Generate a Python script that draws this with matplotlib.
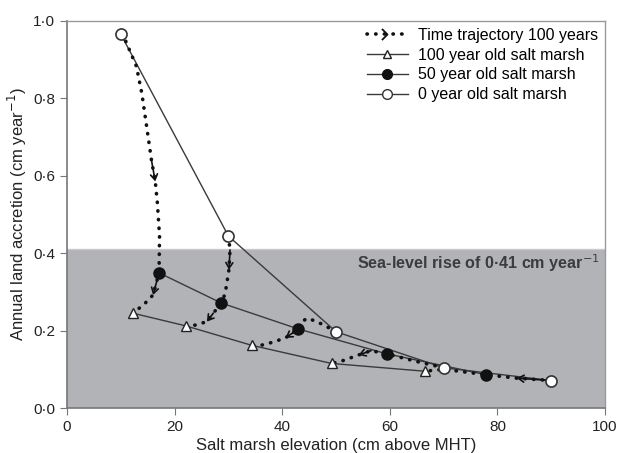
import matplotlib
matplotlib.use("Agg")
import matplotlib.pyplot as plt
from matplotlib.lines import Line2D
from matplotlib.path import Path

plt.rcParams["font.family"] = ["Liberation Sans", "DejaVu Sans"]

# Salt marsh curves (elevation, accretion)
x_age0 = [10, 30, 50, 70, 90]
y_age0 = [0.965, 0.444, 0.197, 0.104, 0.071]
x_age50 = [17.1, 28.7, 43.0, 59.4, 77.9]
y_age50 = [0.349, 0.271, 0.204, 0.140, 0.086]
x_age100 = [12.2, 22.1, 34.3, 49.2, 66.5]
y_age100 = [0.245, 0.212, 0.162, 0.115, 0.095]

# Time trajectories (dotted), with index of the arrow tip in each
traj_x = [
    [10.0, 10.8, 12.9, 13.9, 14.8, 15.7, 16.4, 16.8, 17.2, 17.1, 16.0, 14.2, 12.2],
    [30.0, 30.3, 30.1, 29.4, 28.7, 27.2, 26.0, 23.8, 22.1],
    [50.0, 47.5, 44.8, 43.4, 43.0, 40.6, 38.0, 35.8, 34.3],
    [70.0, 65.0, 59.4, 56.5, 54.2, 51.2, 49.2],
    [90.0, 83.6, 77.9, 70.0, 66.5],
]
traj_y = [
    [0.965, 0.951, 0.882, 0.813, 0.727, 0.640, 0.585, 0.529, 0.443, 0.349, 0.292, 0.266, 0.245],
    [0.444, 0.408, 0.357, 0.296, 0.271, 0.245, 0.223, 0.214, 0.212],
    [0.197, 0.216, 0.232, 0.222, 0.204, 0.181, 0.169, 0.161, 0.162],
    [0.104, 0.120, 0.140, 0.148, 0.137, 0.122, 0.115],
    [0.071, 0.077, 0.086, 0.100, 0.095],
]
arrow_idx = [[6, 10], [2, 6], [5], [4], [1]]

sea_level = 0.41

fig = plt.figure(figsize=(6.17, 4.53), dpi=100)
ax = fig.add_axes([0.1086, 0.0993, 0.872, 0.855])

ax.axhspan(0, sea_level, color="#b2b3b6", zorder=0, lw=0)
ax.axhline(sea_level, color="#c8c9cc", lw=1, zorder=0.5)

line_col = "#3a3a3a"
ax.plot(x_age0, y_age0, color=line_col, lw=1, zorder=2)
ax.plot(x_age50, y_age50, color=line_col, lw=1, zorder=2)
ax.plot(x_age100, y_age100, color=line_col, lw=1, zorder=2)

dot_style = dict(color="#111111", lw=2.6, linestyle=(0, (0.1, 2.3)),
                 dash_capstyle="round", zorder=3)
for tx, ty, idxs in zip(traj_x, traj_y, arrow_idx):
    ax.plot(tx, ty, **dot_style)
    for i in idxs:
        ax.annotate("", xy=(tx[i], ty[i]), xytext=(tx[i - 1], ty[i - 1]),
                    arrowprops=dict(arrowstyle="->,head_length=0.4,head_width=0.25",
                                    color="#111111", lw=1.2, shrinkA=0, shrinkB=0),
                    zorder=4)

ax.plot(x_age100, y_age100, ls="none", marker="^", ms=7, mfc="white",
        mec="#222222", mew=1, zorder=5)
ax.plot(x_age50, y_age50, ls="none", marker="o", ms=8, mfc="#111111",
        mec="#111111", zorder=5)
ax.plot(x_age0, y_age0, ls="none", marker="o", ms=8, mfc="white",
        mec="#333333", mew=1.2, zorder=5)

ax.text(99.0, 0.375, "Sea-level rise of 0·41 cm year$^{-1}$", ha="right",
        va="center", fontsize=11.6, fontweight="bold", color="#3c3c3c", zorder=6)

ax.set_xlim(0, 100)
ax.set_ylim(0, 1.0)
ax.set_xticks([0, 20, 40, 60, 80, 100])
ax.set_xticklabels(["0", "20", "40", "60", "80", "100"])
ax.set_yticks([0, 0.2, 0.4, 0.6, 0.8, 1.0])
ax.set_yticklabels(["0·0", "0·2", "0·4", "0·6", "0·8", "1·0"])
ax.tick_params(direction="out", length=5, color="#777777", labelsize=11,
               labelcolor="#222222")
for s in ["left", "bottom"]:
    ax.spines[s].set_color("#777777")
    ax.spines[s].set_linewidth(1.2)
for s in ["top", "right"]:
    ax.spines[s].set_color("#999999")
    ax.spines[s].set_linewidth(1)

ax.set_xlabel("Salt marsh elevation (cm above MHT)", fontsize=12, color="#222222", labelpad=3)
ax.set_ylabel("Annual land accretion (cm year$^{-1}$)", fontsize=12, color="#222222", labelpad=3)

chevron = Path([(-1, 1), (0, 0), (-1, -1)], [Path.MOVETO, Path.LINETO, Path.LINETO])
handles = [
    Line2D([], [], color="#111111", lw=2.6, linestyle=(0, (0.1, 2.3)),
           dash_capstyle="round", marker=chevron, ms=8, mfc="none",
           mec="#111111", mew=1.3),
    Line2D([], [], color=line_col, lw=1, marker="^", ms=6, mfc="white", mec="#222222"),
    Line2D([], [], color=line_col, lw=1, marker="o", ms=7, mfc="#111111", mec="#111111"),
    Line2D([], [], color=line_col, lw=1, marker="o", ms=7, mfc="white", mec="#333333"),
]
labels = ["Time trajectory 100 years", "100 year old salt marsh",
          "50 year old salt marsh", "0 year old salt marsh"]
ax.legend(handles, labels, loc="upper right", frameon=False, fontsize=11.5,
          handlelength=2.6, handletextpad=0.6, labelspacing=0.3,
          borderaxespad=0.05, numpoints=1)

fig.savefig("out.png", dpi=100)
